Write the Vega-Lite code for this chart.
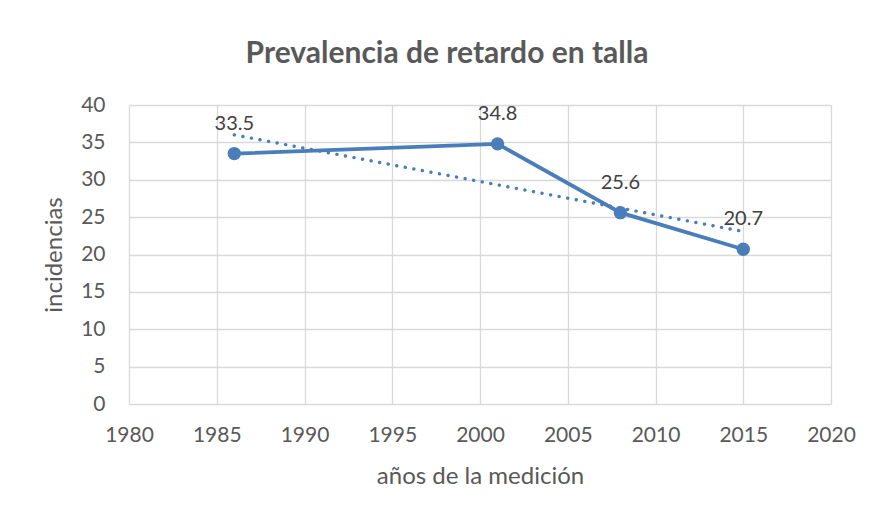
{
  "$schema": "https://vega.github.io/schema/vega-lite/v6.json",
  "width": 702,
  "height": 299,
  "autosize": {"type": "none"},
  "padding": {"left": 129, "top": 105, "right": 40, "bottom": 111},
  "background": "#ffffff",
  "config": {
    "font": "Lato",
    "view": {"stroke": null},
    "axis": {
      "grid": true,
      "gridColor": "#d9d9d9",
      "gridWidth": 1.3,
      "domain": false,
      "ticks": false,
      "labelFlush": false,
      "labelColor": "#595959",
      "labelFont": "Lato",
      "labelFontSize": 21,
      "titleColor": "#595959",
      "titleFont": "Lato",
      "titleFontSize": 24,
      "titleFontWeight": "normal"
    }
  },
  "title": {
    "text": "Prevalencia de retardo en talla",
    "fontSize": 30,
    "fontWeight": "bold",
    "color": "#595959",
    "font": "Lato",
    "anchor": "middle",
    "baseline": "alphabetic",
    "offset": 1,
    "dx": -33
  },
  "data": {
    "values": [
      {"year": 1986, "value": 33.5},
      {"year": 2001, "value": 34.8},
      {"year": 2008, "value": 25.6},
      {"year": 2015, "value": 20.7}
    ]
  },
  "encoding": {
    "x": {
      "field": "year",
      "type": "quantitative",
      "scale": {"domain": [1980, 2020], "nice": false, "zero": false},
      "axis": {
        "values": [1980, 1985, 1990, 1995, 2000, 2005, 2010, 2015, 2020],
        "format": "d",
        "title": "años de la medición",
        "labelPadding": 20,
        "titlePadding": 19
      }
    },
    "y": {
      "field": "value",
      "type": "quantitative",
      "scale": {"domain": [0, 40], "nice": false},
      "axis": {
        "values": [0, 5, 10, 15, 20, 25, 30, 35, 40],
        "title": "incidencias",
        "labelPadding": 24,
        "titlePadding": 14
      }
    }
  },
  "layer": [
    {
      "transform": [{"regression": "value", "on": "year"}],
      "mark": {"type": "line", "color": "#4a7ebb", "strokeWidth": 3.4, "strokeDash": [0.1, 8.6], "strokeCap": "round"}
    },
    {
      "mark": {"type": "line", "color": "#4a7ebb", "strokeWidth": 3.8}
    },
    {
      "mark": {"type": "point", "filled": true, "opacity": 1, "color": "#4a7ebb", "size": 180}
    },
    {
      "mark": {"type": "text", "dy": -24, "baseline": "alphabetic", "fontSize": 20, "color": "#404040", "font": "Lato"},
      "encoding": {"text": {"field": "value", "type": "quantitative", "format": ".1f"}}
    }
  ]
}
